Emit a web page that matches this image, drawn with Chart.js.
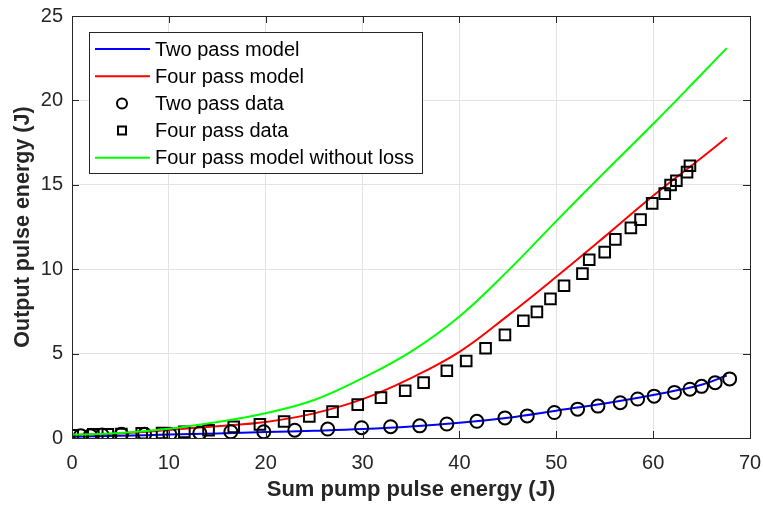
<!DOCTYPE html>
<html>
<head>
<meta charset="utf-8">
<script src="https://cdn.jsdelivr.net/npm/chart.js@4/dist/chart.umd.min.js"></script>
<style>
  html, body { margin: 0; padding: 0; background: #ffffff; }
  #wrap { width: 763px; height: 509px; }
</style>
</head>
<body>
<div id="wrap"><canvas id="c" width="763" height="509"></canvas></div>
<script>
// Model curves, sampled along the pump energy axis (J)
const modelX = [0, 5, 10, 15, 20, 25, 30, 35, 40, 45, 50, 55, 60, 65, 67.6];
const twoPassModel = [0.08, 0.13, 0.2, 0.27, 0.35, 0.43, 0.53, 0.68, 0.9, 1.2, 1.62, 2.05, 2.55, 3.15, 3.7];
const fourPassModel = [0.18, 0.27, 0.48, 0.7, 0.95, 1.46, 2.3, 3.55, 5.1, 7.25, 9.55, 11.93, 14.35, 16.6, 17.8];
const fourPassNoLoss = [0.2, 0.3, 0.55, 0.95, 1.47, 2.25, 3.55, 5.12, 7.2, 9.9, 12.85, 15.75, 18.6, 21.55, 23.1];

// Measured two pass output
const twoPassX = [0.9, 1.9, 3.1, 5.1, 7.5, 10.1, 13.2, 16.4, 19.8, 23.0, 26.4, 29.9, 32.9, 35.9, 38.7, 41.8, 44.7, 47.0, 49.8, 52.2, 54.3, 56.6, 58.4, 60.1, 62.2, 63.8, 65.0, 66.4, 67.9];
const twoPassY = [0.14, 0.14, 0.18, 0.22, 0.22, 0.22, 0.30, 0.37, 0.37, 0.46, 0.53, 0.61, 0.67, 0.72, 0.83, 0.99, 1.19, 1.31, 1.51, 1.71, 1.89, 2.09, 2.31, 2.48, 2.70, 2.89, 3.06, 3.28, 3.50];

// Measured four pass output
const fourPassX = [0.07, 2.2, 3.7, 5.1, 7.2, 9.3, 11.6, 14.1, 16.7, 19.4, 21.9, 24.5, 26.9, 29.5, 31.9, 34.4, 36.3, 38.7, 40.7, 42.7, 44.7, 46.6, 48.0, 49.4, 50.8, 52.7, 53.4, 55.0, 56.1, 57.7, 58.7, 59.9, 61.2, 61.8, 62.4, 63.5, 63.8];
const fourPassY = [0.16, 0.22, 0.22, 0.24, 0.28, 0.30, 0.36, 0.46, 0.66, 0.81, 0.98, 1.28, 1.56, 1.98, 2.39, 2.80, 3.28, 3.98, 4.56, 5.32, 6.11, 6.95, 7.47, 8.24, 9.02, 9.74, 10.56, 11.01, 11.77, 12.45, 12.94, 13.90, 14.48, 14.99, 15.24, 15.75, 16.13];

const xTicks = [0, 10, 20, 30, 40, 50, 60, 70];
const yTicks = [0, 5, 10, 15, 20, 25];

const seriesLabels = ['Two pass model', 'Four pass model', 'Two pass data', 'Four pass data', 'Four pass model without loss'];

const xy = (xs, ys) => xs.map((x, i) => ({ x: x, y: ys[i] }));

const TEXT = '#262626';
const FONT = 'Arial, "Liberation Sans", Helvetica, sans-serif';

// Axis box with inward tick marks, drawn over the data
const boxPlugin = {
  id: 'box',
  afterDatasetsDraw(chart) {
    const { ctx, chartArea: a, scales } = chart;
    const len = 7;
    ctx.save();
    ctx.strokeStyle = TEXT;
    ctx.lineWidth = 1;
    ctx.beginPath();
    xTicks.forEach(v => {
      const px = Math.round(scales.x.getPixelForValue(v)) + 0.5;
      ctx.moveTo(px, a.bottom); ctx.lineTo(px, a.bottom - len);
      ctx.moveTo(px, a.top); ctx.lineTo(px, a.top + len);
    });
    yTicks.forEach(v => {
      const py = Math.round(scales.y.getPixelForValue(v)) + 0.5;
      ctx.moveTo(a.left, py); ctx.lineTo(a.left + len, py);
      ctx.moveTo(a.right, py); ctx.lineTo(a.right - len, py);
    });
    ctx.stroke();
    ctx.strokeRect(Math.round(a.left) + 0.5, Math.round(a.top) + 0.5, Math.round(a.right - a.left), Math.round(a.bottom - a.top));
    ctx.restore();
  }
};

// Legend box in the upper left of the plot
const legendPlugin = {
  id: 'boxLegend',
  afterDraw(chart) {
    const { ctx, chartArea: a } = chart;
    const left = a.left + 17, top = a.top + 16, w = 333, h = 141;
    const rowH = 27.2, firstRow = top + 17;
    ctx.save();
    ctx.fillStyle = '#ffffff';
    ctx.fillRect(left, top, w, h);
    ctx.strokeStyle = '#262626';
    ctx.lineWidth = 1;
    ctx.strokeRect(Math.round(left) + 0.5, Math.round(top) + 0.5, w, h);
    ctx.font = '20px ' + FONT;
    ctx.textBaseline = 'middle';
    ctx.textAlign = 'left';
    chart.data.datasets.forEach(ds => {
      const i = seriesLabels.indexOf(ds.label);
      const y = firstRow + i * rowH;
      if (ds.showLine) {
        ctx.strokeStyle = ds.borderColor;
        ctx.lineWidth = 2;
        ctx.beginPath();
        ctx.moveTo(left + 6, y); ctx.lineTo(left + 61, y);
        ctx.stroke();
      } else {
        ctx.strokeStyle = '#000000';
        ctx.lineWidth = 2;
        ctx.beginPath();
        if (ds.pointStyle === 'circle') {
          ctx.arc(left + 33, y, 5, 0, Math.PI * 2);
        } else {
          ctx.rect(left + 29, y - 4, 8, 8);
        }
        ctx.stroke();
      }
      ctx.fillStyle = '#000000';
      ctx.fillText(ds.label, left + 66, y + 1);
    });
    ctx.restore();
  }
};

const lineSet = (label, data, color, order) => ({
  label: label, data: data, showLine: true, borderColor: color, backgroundColor: color,
  borderWidth: 2, pointRadius: 0, pointHoverRadius: 0, tension: 0.4,
  fill: false, order: order
});

const markerSet = (label, data, style, radius, order) => ({
  label: label, data: data, showLine: false, pointStyle: style, pointRadius: radius,
  pointBorderWidth: 2, pointBorderColor: '#000000', pointBackgroundColor: 'rgba(0,0,0,0)',
  borderColor: '#000000', backgroundColor: 'rgba(0,0,0,0)', order: order
});

new Chart(document.getElementById('c'), {
  type: 'scatter',
  data: {
    datasets: [
      lineSet(seriesLabels[0], xy(modelX, twoPassModel), '#0000ff', 5),
      lineSet(seriesLabels[1], xy(modelX, fourPassModel), '#ff0000', 4),
      markerSet(seriesLabels[2], xy(twoPassX, twoPassY), 'circle', 6.5, 3),
      markerSet(seriesLabels[3], xy(fourPassX, fourPassY), 'rect', 7.5, 2),
      lineSet(seriesLabels[4], xy(modelX, fourPassNoLoss), '#00ff00', 1)
    ]
  },
  options: {
    responsive: false,
    animation: false,
    events: [],
    layout: { padding: { left: 0, right: 13, top: 16, bottom: 0 } },
    plugins: { legend: { display: false }, tooltip: { enabled: false } },
    scales: {
      x: {
        type: 'linear', min: 0, max: 70,
        afterFit(s) { s.height = 71; s.paddingLeft = 0; s.paddingRight = 0; },
        afterBuildTicks(s) { s.ticks = xTicks.map(v => ({ value: v })); },
        grid: { color: '#e3e3e3', lineWidth: 1, drawTicks: false },
        border: { display: false },
        ticks: { padding: 13, color: TEXT, font: { family: FONT, size: 20 }, maxRotation: 0 },
        title: { display: true, text: 'Sum pump pulse energy (J)', color: TEXT,
                 font: { family: FONT, size: 22, weight: 'bold' }, padding: { top: 0, bottom: 6 } }
      },
      y: {
        type: 'linear', min: 0, max: 25,
        afterFit(s) { s.width = 72; s.paddingTop = 0; s.paddingBottom = 0; },
        afterBuildTicks(s) { s.ticks = yTicks.map(v => ({ value: v })); },
        grid: { color: '#e3e3e3', lineWidth: 1, drawTicks: false },
        border: { display: false },
        ticks: { padding: 9, color: TEXT, font: { family: FONT, size: 20 } },
        title: { display: true, text: 'Output pulse energy (J)', color: TEXT,
                 font: { family: FONT, size: 21.5, weight: 'bold' }, padding: { top: 10, bottom: 0 } }
      }
    }
  },
  plugins: [boxPlugin, legendPlugin]
});
</script>
</body>
</html>
